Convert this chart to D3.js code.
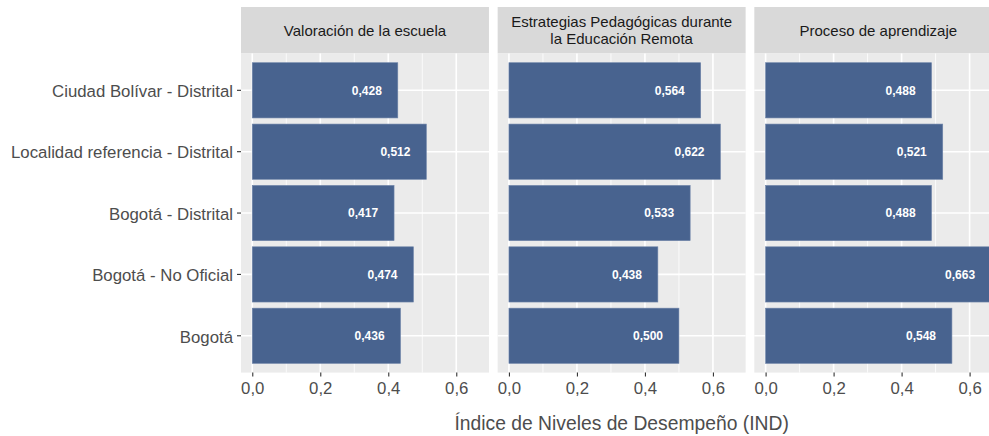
<!DOCTYPE html>
<html>
<head>
<meta charset="utf-8">
<script src="https://cdn.jsdelivr.net/npm/d3@7"></script>
<style>
  body { margin: 0; background: #fff; }
  svg { display: block; font-family: "Liberation Sans", Arial, sans-serif; }
</style>
</head>
<body>
<div id="chart"></div>
<script>
// Categories, top to bottom
const categories = [
  "Ciudad Bolívar - Distrital",
  "Localidad referencia - Distrital",
  "Bogotá - Distrital",
  "Bogotá - No Oficial",
  "Bogotá"
];
// Facet titles (lines)
const facets = [
  ["Valoración de la escuela"],
  ["Estrategias Pedagógicas durante", "la Educación Remota"],
  ["Proceso de aprendizaje"]
];
const valoracion = [0.428, 0.512, 0.417, 0.474, 0.436];
const estrategias = [0.564, 0.622, 0.533, 0.438, 0.500];
const proceso = [0.488, 0.521, 0.488, 0.663, 0.548];
const seriesValues = [valoracion, estrategias, proceso];
const majorTicks = [0, 0.2, 0.4, 0.6];
const minorTicks = [0.1, 0.3, 0.5];
const xTitle = "Índice de Niveles de Desempeño (IND)";

const width = 989, height = 436;
const panelLeft = 241, panelGap = 8.7;
const stripTop = 7, stripH = 46.5;
const panelTop = stripTop + stripH, panelBottom = 372.6;

const svg = d3.select("#chart").append("svg")
  .attr("width", width)
  .attr("height", height);

const fmt = v => d3.format(".1f")(v).replace(".", ",");
const fmt3 = v => d3.format(".3f")(v).replace(".", ",");

// shared x domain (ggplot 5% expansion)
const maxVal = d3.max(seriesValues.flat());
const xDomain = [-0.05 * maxVal, maxVal * 1.05];
const unitPx = 340;  // pixels per 1.0
const panelW = (xDomain[1] - xDomain[0]) * unitPx;

const y = d3.scaleBand()
  .domain(categories)
  .range([panelTop, panelBottom])
  .paddingInner(0.1)
  .paddingOuter(0.15);

const barColor = "#48638F";

seriesValues.forEach((vals, fi) => {
  const px = panelLeft + fi * (panelW + panelGap);
  const x = d3.scaleLinear().domain(xDomain).range([px, px + panelW]);
  const g = svg.append("g");

  // strip
  g.append("rect")
    .attr("x", px).attr("y", stripTop)
    .attr("width", panelW).attr("height", stripH)
    .attr("fill", "#D9D9D9");
  const lines = facets[fi];
  const lh = 16.5;
  lines.forEach((t, li) => {
    g.append("text")
      .attr("x", px + panelW / 2)
      .attr("y", stripTop + stripH / 2 + (li - (lines.length - 1) / 2) * lh)
      .attr("dy", "0.35em")
      .attr("text-anchor", "middle")
      .attr("font-size", 15)
      .attr("fill", "#1A1A1A")
      .text(t);
  });

  // panel background
  g.append("rect")
    .attr("x", px).attr("y", panelTop)
    .attr("width", panelW).attr("height", panelBottom - panelTop)
    .attr("fill", "#EBEBEB");

  // minor grid
  g.selectAll(".minor").data(minorTicks).enter().append("line")
    .attr("x1", d => x(d)).attr("x2", d => x(d))
    .attr("y1", panelTop).attr("y2", panelBottom)
    .attr("stroke", "#fff").attr("stroke-width", 0.8);
  // major grid
  g.selectAll(".major").data(majorTicks).enter().append("line")
    .attr("x1", d => x(d)).attr("x2", d => x(d))
    .attr("y1", panelTop).attr("y2", panelBottom)
    .attr("stroke", "#fff").attr("stroke-width", 1.6);
  g.selectAll(".hgrid").data(categories).enter().append("line")
    .attr("x1", px).attr("x2", px + panelW)
    .attr("y1", d => y(d) + y.bandwidth() / 2)
    .attr("y2", d => y(d) + y.bandwidth() / 2)
    .attr("stroke", "#fff").attr("stroke-width", 1.6);

  // bars
  g.selectAll(".bar").data(vals).enter().append("rect")
    .attr("x", x(0))
    .attr("y", (d, i) => y(categories[i]))
    .attr("width", d => x(d) - x(0))
    .attr("height", y.bandwidth())
    .attr("fill", barColor)
    .attr("stroke", "#6E84A8")
    .attr("stroke-width", 0.6);

  // value labels
  g.selectAll(".lbl").data(vals).enter().append("text")
    .attr("x", d => x(d - 0.091))
    .attr("y", (d, i) => y(categories[i]) + y.bandwidth() / 2)
    .attr("dy", "0.35em")
    .attr("text-anchor", "middle")
    .attr("font-size", 12)
    .attr("font-weight", "bold")
    .attr("fill", "#fff")
    .text(d => fmt3(d));

  // x axis
  const ax = g.append("g")
    .attr("transform", `translate(0,${panelBottom})`)
    .call(d3.axisBottom(x).tickValues(majorTicks).tickFormat(fmt).tickSize(4).tickPadding(5));
  ax.select(".domain").remove();
  ax.selectAll("line").attr("stroke", "#333").attr("stroke-width", 1.1);
  ax.selectAll("text").attr("font-size", 16.8).attr("fill", "#4D4D4D")
    .attr("font-family", "Liberation Sans, Arial, sans-serif");
});

// y axis on left of first panel
const yAx = svg.append("g")
  .attr("transform", `translate(${panelLeft},0)`)
  .call(d3.axisLeft(y).tickSize(4).tickPadding(4));
yAx.select(".domain").remove();
yAx.selectAll("line").attr("stroke", "#333").attr("stroke-width", 1.1);
yAx.selectAll("text").attr("font-size", 16.8).attr("fill", "#4D4D4D")
  .attr("dy", "0.4em")
  .attr("font-family", "Liberation Sans, Arial, sans-serif");

// x title
svg.append("text")
  .attr("x", panelLeft + (3 * panelW + 2 * panelGap) / 2)
  .attr("y", 430)
  .attr("text-anchor", "middle")
  .attr("font-size", 19.3)
  .attr("fill", "#4D4D4D")
  .text(xTitle);
</script>
</body>
</html>
